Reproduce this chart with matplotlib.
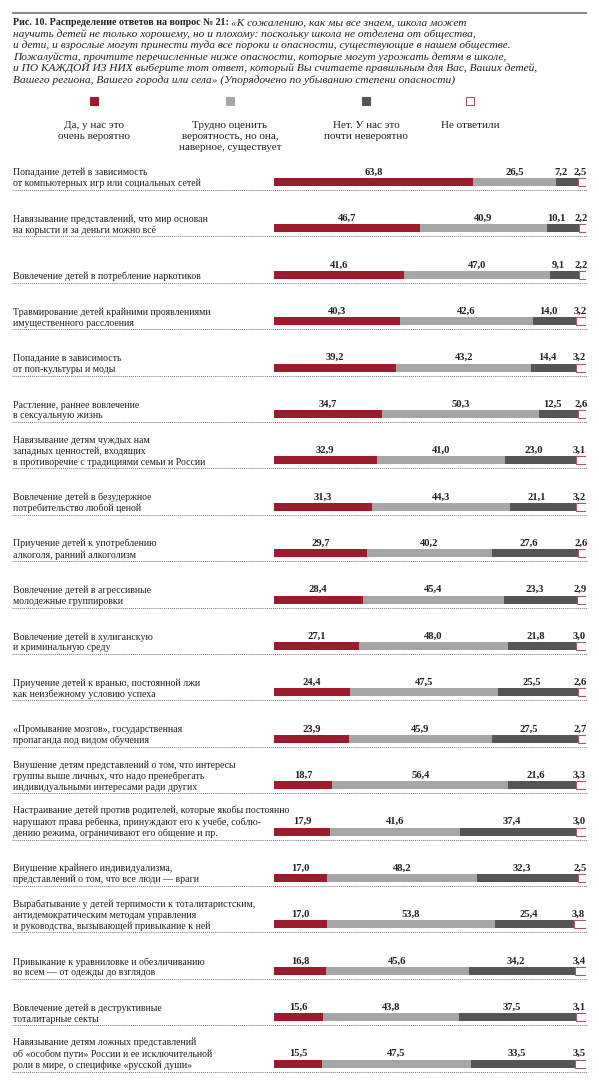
import matplotlib.pyplot as plt
from matplotlib.patches import Rectangle
from matplotlib.transforms import blended_transform_factory
import numpy as np

# data
labels = [
    "Попадание детей в зависимость\nот компьютерных игр или социальных сетей",
    "Навязывание представлений, что мир основан\nна корысти и за деньги можно всё",
    "Вовлечение детей в потребление наркотиков",
    "Травмирование детей крайними проявлениями\nимущественного расслоения",
    "Попадание в зависимость\nот поп-культуры и моды",
    "Растление, раннее вовлечение\nв сексуальную жизнь",
    "Навязывание детям чуждых нам\nзападных ценностей, входящих\nв противоречие с традициями семьи и России",
    "Вовлечение детей в безудержное\nпотребительство любой ценой",
    "Приучение детей к употреблению\nалкоголя, ранний алкоголизм",
    "Вовлечение детей в агрессивные\nмолодежные группировки",
    "Вовлечение детей в хулиганскую\nи криминальную среду",
    "Приучение детей к вранью, постоянной лжи\nкак неизбежному условию успеха",
    "«Промывание мозгов», государственная\nпропаганда под видом обучения",
    "Внушение детям представлений о том, что интересы\nгруппы выше личных, что надо пренебрегать\nиндивидуальными интересами ради других",
    "Настраивание детей против родителей, которые якобы постоянно\nнарушают права ребенка, принуждают его к учебе, соблю-\nдению режима, ограничивают его общение и пр.",
    "Внушение крайнего индивидуализма,\nпредставлений о том, что все люди — враги",
    "Вырабатывание у детей терпимости к тоталитаристским,\nантидемократическим методам управления\nи руководства, вызывающей привыкание к ней",
    "Привыкание к уравниловке и обезличиванию\nво всем — от одежды до взглядов",
    "Вовлечение детей в деструктивные\nтоталитарные секты",
    "Навязывание детям ложных представлений\nоб «особом пути» России и ее исключительной\nроли в мире, о специфике «русской души»",
]
yes  = [63.8, 46.7, 41.6, 40.3, 39.2, 34.7, 32.9, 31.3, 29.7, 28.4,
        27.1, 24.4, 23.9, 18.7, 17.9, 17.0, 17.0, 16.8, 15.6, 15.5]
hard = [26.5, 40.9, 47.0, 42.6, 43.2, 50.3, 41.0, 44.3, 40.2, 45.4,
        48.0, 47.5, 45.9, 56.4, 41.6, 48.2, 53.8, 45.6, 43.8, 47.5]
no   = [7.2, 10.1, 9.1, 14.0, 14.4, 12.5, 23.0, 21.1, 27.6, 23.3,
        21.8, 25.5, 27.5, 21.6, 37.4, 32.3, 25.4, 34.2, 37.5, 33.5]
na   = [2.5, 2.2, 2.2, 3.2, 3.2, 2.6, 3.1, 3.2, 2.6, 2.9,
        3.0, 2.6, 2.7, 3.3, 3.0, 2.5, 3.8, 3.4, 3.1, 3.5]

legend_labels = ["Да, у нас это\nочень вероятно",
                 "Трудно оценить\nвероятность, но она,\nнаверное, существует",
                 "Нет. У нас это\nпочти невероятно",
                 "Не ответили"]

title_bold = "Рис. 10. Распределение ответов на вопрос № 21: "
title_lines = [
    "«К сожалению, как мы все знаем, школа может",
    "научить детей не только хорошему, но и плохому: поскольку школа не отделена от общества,",
    "и дети, и взрослые могут принести туда все пороки и опасности, существующие в нашем обществе.",
    "Пожалуйста, прочтите перечисленные ниже опасности, которые могут угрожать детям в школе,",
    "и ПО КАЖДОЙ ИЗ НИХ выберите тот ответ, который Вы считаете правильным для Вас, Ваших детей,",
    "Вашего региона, Вашего города или села» (Упорядочено по убыванию степени опасности)",
]

red = '#9c1c2e'
gray = '#a6a6a6'
dark = '#555557'
na_edge = '#a8566e'
txt = '#222222'

plt.rcParams['font.family'] = ['Liberation Serif', 'DejaVu Serif']

W, H = 599, 1080
fig = plt.figure(figsize=(W / 100, H / 100), dpi=100)
ax = fig.add_axes([0, 0, 1, 1])
ax.set_xlim(0, W)
ax.set_ylim(H, 0)
ax.axis('off')

# bar axes: x in percent, y in row units
x0, x1 = 274, 586
y_first, step = 182, 46.4
top, bottom = 160, 1080
bx = fig.add_axes([x0 / W, 1 - bottom / H, (x1 - x0) / W, (bottom - top) / H])
bx.set_xlim(0, 100)
bx.set_ylim((bottom - y_first) / step, (top - y_first) / step)
bx.axis('off')

rows = np.arange(len(labels))
bh = 8 / step
left = np.zeros(len(rows))
for vals, c, shift in [(yes, red, 0), (hard, gray, 0), (no, dark, -2.0)]:
    vals = np.array(vals)
    bx.barh(rows, vals, left=left, height=bh, color=c, linewidth=0)
    for i, v in enumerate(vals):
        bx.text(left[i] + v / 2 + shift, i - 7.5 / step, f"{v:.1f}".replace('.', ','),
                ha='center', va='baseline', fontsize=7.6, fontweight='bold', color=txt)
    left += vals
na = np.array(na)
bx.barh(rows, na, left=left, height=bh, color='white', edgecolor=na_edge, linewidth=0.8)
for i, v in enumerate(na):
    bx.text(left[i] + v / 2 - 0.5, i - 7.5 / step, f"{v:.1f}".replace('.', ','),
            ha='center', va='baseline', fontsize=7.6, fontweight='bold', color=txt)

# row labels and dotted separators
tr = blended_transform_factory(ax.transData, bx.transData)
for i, lab in enumerate(labels):
    ax.text(13, i + 6.5 / step, lab, transform=tr, ha='left', va='bottom',
            fontsize=7.1, color=txt, linespacing=1.25)
    ax.plot([12, 587], [i + 8 / step] * 2, transform=tr, color='#777777',
            linestyle=(0, (1, 1)), linewidth=0.7, clip_on=False)

# title
ax.plot([13, 586], [13, 13], color='#8a8a8a', linewidth=1.5)
tb = ax.text(13, 25, title_bold, fontsize=7.2, fontweight='bold', color=txt,
             ha='left', va='baseline')
fig.canvas.draw()
bb = tb.get_window_extent().transformed(ax.transData.inverted())
ax.text(bb.x1, 25, title_lines[0], fontsize=8.2, style='italic', color=txt,
        ha='left', va='baseline')
for k, line in enumerate(title_lines[1:], start=1):
    ax.text(13, 25 + 11.6 * k, line, fontsize=8.2, style='italic', color=txt,
            ha='left', va='baseline')

# legend
leg_x = [94, 230, 366, 470]
leg_fc = [red, gray, dark, 'white']
leg_ec = [red, gray, dark, na_edge]
for x, fc, ec, lab in zip(leg_x, leg_fc, leg_ec, legend_labels):
    ax.add_patch(Rectangle((x - 4, 97), 8, 8, facecolor=fc, edgecolor=ec, linewidth=0.8))
    ax.text(x, 121, lab, ha='center', va='top', fontsize=8.0, color=txt,
            linespacing=1.25, multialignment='center')

fig.savefig('out.png', dpi=100)
